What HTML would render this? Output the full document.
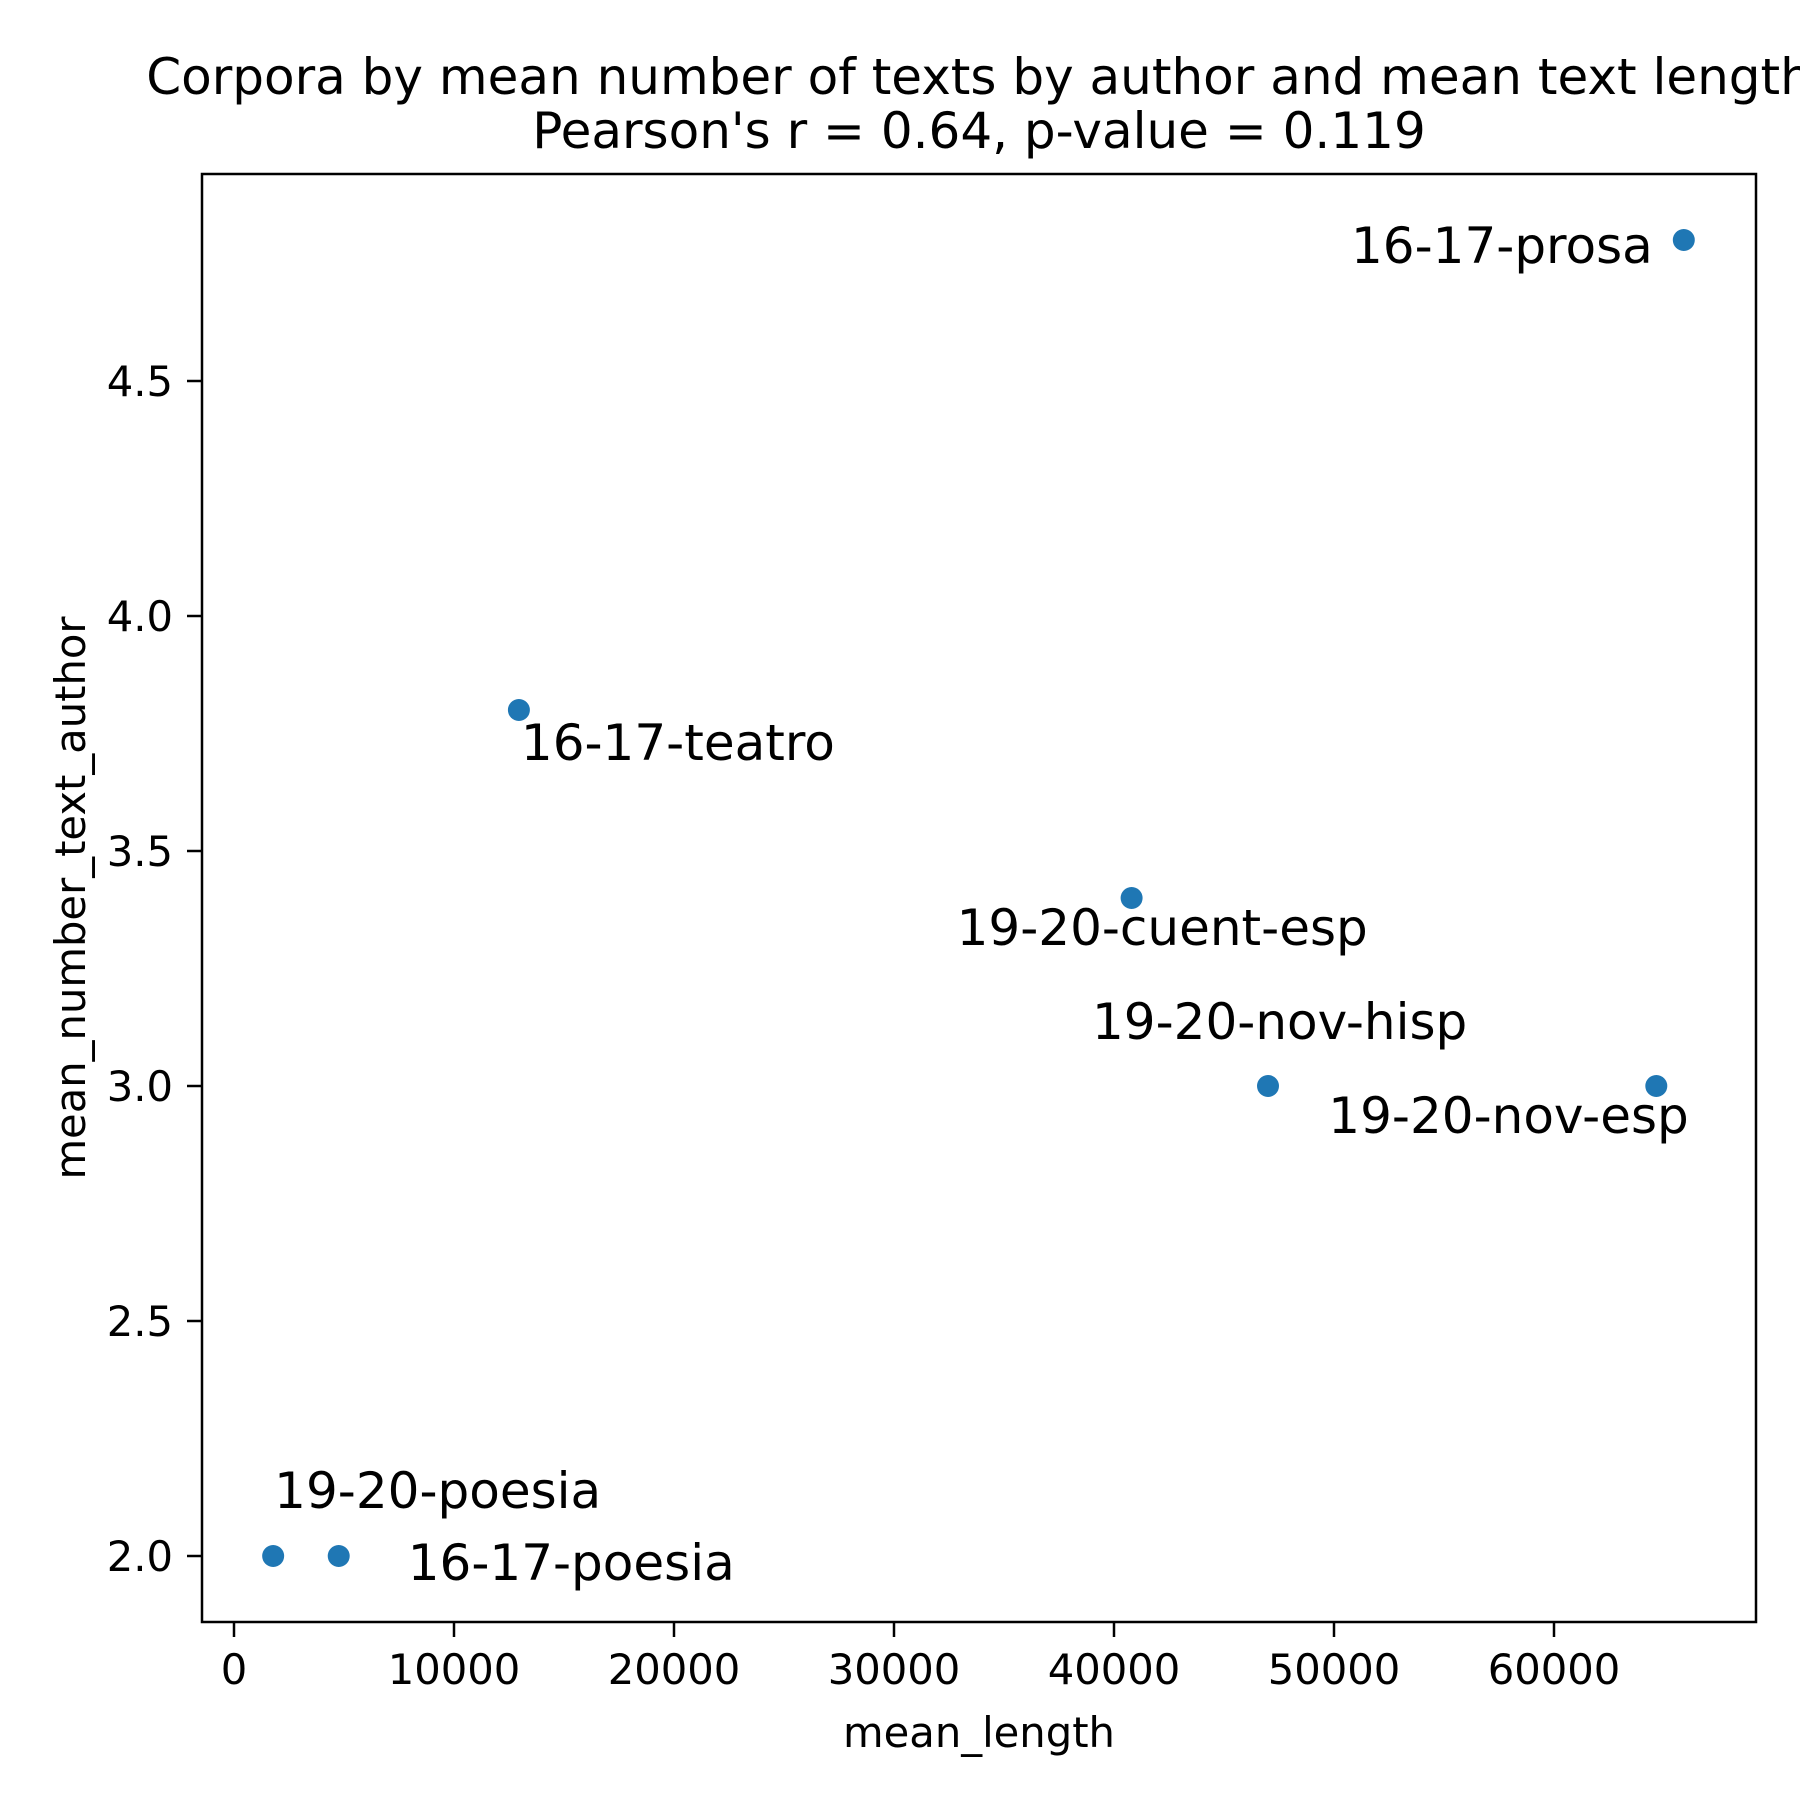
<!DOCTYPE html>
<html><head><meta charset="utf-8"><style>
html,body{margin:0;padding:0;background:#fff;}
svg{display:block;font-family:"DejaVu Sans","Liberation Sans",sans-serif;}
</style></head><body>
<svg id="chart" width="1800" height="1800" viewBox="0 0 1800 1800" xmlns="http://www.w3.org/2000/svg">
<rect width="1800" height="1800" fill="#fff"/>
<text x="979" y="94" font-size="50" text-anchor="middle">Corpora by mean number of texts by author and mean text length</text>
<text x="979" y="148" font-size="50" text-anchor="middle">Pearson's r = 0.64, p-value = 0.119</text>
<g id="ticks"></g>
<g id="points"></g>
<rect x="202" y="174" width="1554" height="1448" fill="none" stroke="#000" stroke-width="2.5"/>
<text x="979" y="1747" font-size="41.7" text-anchor="middle">mean_length</text>
<text x="0" y="0" font-size="41.7" text-anchor="middle" transform="translate(85,898) rotate(-90)">mean_number_text_author</text>
</svg>
<script>
const labels = ["16-17-prosa","16-17-teatro","19-20-cuent-esp","19-20-nov-hisp","19-20-nov-esp","19-20-poesia","16-17-poesia"];
const xValues = [65900, 12950, 40800, 47000, 64650, 1780, 4760];
const yValues = [4.8, 3.8, 3.4, 3.0, 3.0, 2.0, 2.0];
const xTicks = [0, 10000, 20000, 30000, 40000, 50000, 60000];
const yTicks = [2.0, 2.5, 3.0, 3.5, 4.0, 4.5];
const labelDx = [-31, 2, -175, -176, -328, 1, 69];
const labelDy = [23, 50, 47, -47, 47, -48, 24];
const labelAnchor = ["end","start","start","start","start","start","start"];

const NS = "http://www.w3.org/2000/svg";
function xs(v){ return 234 + v * 0.022; }
function ys(v){ return 1556 - (v - 2) * 470; }
const tg = document.getElementById('ticks');
const pg = document.getElementById('points');
function mk(tag, attrs, parent){ const e = document.createElementNS(NS, tag); for (const k in attrs) e.setAttribute(k, attrs[k]); parent.appendChild(e); return e; }

xTicks.forEach(t => {
  const x = xs(t);
  const l = mk('line', {x1:x, x2:x, y1:1622, y2:1637, stroke:'#000', 'stroke-width':2.5}, tg);
  
  
  const tx = mk('text', {x:x, y:1684, 'font-size':41.7, 'text-anchor':'middle'}, tg);
  tx.textContent = String(t);
  
  
});
yTicks.forEach(t => {
  const y = ys(t);
  const l = mk('line', {x1:187, x2:202, y1:y, y2:y, stroke:'#000', 'stroke-width':2.5}, tg);
  
  
  const tx = mk('text', {x:173, y:y + 15, 'font-size':41.7, 'text-anchor':'end'}, tg);
  tx.textContent = t.toFixed(1);
  
  
});
labels.forEach((lab, i) => {
  const cx = xs(xValues[i]), cy = ys(yValues[i]);
  const c = mk('circle', {cx:cx, cy:cy, r:11, fill:'#1f77b4'}, pg);
  
  
  const t = mk('text', {x:cx + labelDx[i], y:cy + labelDy[i], 'font-size':50, 'text-anchor':labelAnchor[i]}, pg);
  t.textContent = lab;
  
  
});
</script>
</body></html>
